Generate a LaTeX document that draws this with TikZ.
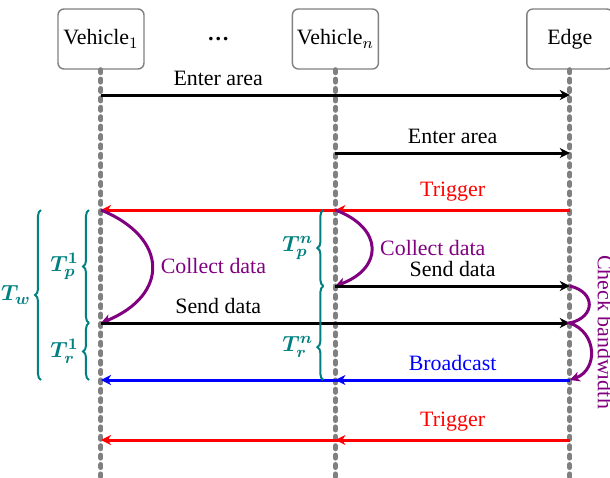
\documentclass[tikz,border=0pt,11pt]{standalone}
\usepackage{fontspec}
\setmainfont{Liberation Serif}
\usepackage{bm}
\usetikzlibrary{positioning,arrows.meta,decorations.pathreplacing}
\definecolor{vpurple}{RGB}{128,0,128}
\definecolor{vteal}{RGB}{0,128,128}

\begin{document}
\begin{tikzpicture}[node distance=73.5pt, >={Stealth[length=5pt,width=5pt,inset=1.5pt]}]
        \tikzstyle{actor} = [rectangle, draw=gray, rounded corners=3pt, line width=0.7pt, inner xsep=2pt, minimum width=43pt, minimum height=30pt]
        \tikzstyle{lifeline} = [gray, line width=2.5pt, dash pattern=on 1.5pt off 3.2pt, line cap=round]
        \tikzstyle{msg} = [->, line width=1.5pt]
        \tikzstyle{selfarc} = [->, vpurple, line width=1.5pt]
        \tikzstyle{period} = [vteal, line width=1pt, decorate, decoration={brace, amplitude=3pt}]
        \useasboundingbox (-50.5pt,19.5pt) rectangle (254.5pt,-219pt);
        \node[actor] (v1) {Vehicle$_1$};
        \node[actor, right=of v1] (vn) {Vehicle$_n$};
        \node[actor, right=of vn] (edge) {Edge};
        \path (v1) -- node (dots) {\textbf{\dots}} (vn);
        \draw[lifeline] (v1.south) -- ++(0,-204pt);
        \draw[lifeline] (vn.south) -- ++(0,-204pt);
        \draw[lifeline] (edge.south) -- ++(0,-204pt);
        % message rows
        \coordinate (enter1) at (0,-28pt);
        \coordinate (enter2) at (0,-57pt);
        \coordinate (trig1) at (0,-85.5pt);
        \coordinate (sendn) at (0,-123.5pt);
        \coordinate (send1) at (0,-142pt);
        \coordinate (bcast) at (0,-170.5pt);
        \coordinate (trig2) at (0,-200.5pt);
        \draw[msg] (v1 |- enter1) -- node[above, pos=0.25] {Enter area} (edge |- enter1);
        \draw[msg] (vn |- enter2) -- node[above] {Enter area} (edge |- enter2);
        \draw[msg, red] (edge |- trig1) -- (v1 |- trig1);
        \draw[msg, red] (edge |- trig1) -- node[above] {Trigger} (vn |- trig1);
        \draw[selfarc] (v1 |- trig1) .. controls +(34pt,-14pt) and +(34pt,14pt) .. node[right] {Collect data} (v1 |- send1);
        \draw[selfarc] (vn |- trig1) .. controls +(24pt,-9pt) and +(24pt,9pt) .. node[right] {Collect data} (vn |- sendn);
        \draw[msg] (vn |- sendn) -- node[above] {Send data} (edge |- sendn);
        \draw[msg] (v1 |- send1) -- node[above, pos=0.25] {Send data} (edge |- send1);
        \draw[selfarc] (edge |- sendn) .. controls +(13pt,-3pt) and +(13pt,3pt) .. (edge |- send1)
                .. controls +(14pt,-5pt) and +(14pt,5pt) .. (edge |- bcast);
        \coordinate (bwpos) at ([xshift=14pt, yshift=-4.5pt]edge |- send1);
        \node[rotate=-90, anchor=base, inner sep=0pt, text=vpurple] (bw) at (bwpos) {Check bandwidth};
        \draw[msg, blue] (edge |- bcast) -- (v1 |- bcast);
        \draw[msg, blue] (edge |- bcast) -- node[above] {Broadcast} (vn |- bcast);
        \draw[msg, red] (edge |- trig2) -- (v1 |- trig2);
        \draw[msg, red] (edge |- trig2) -- node[above] {Trigger} (vn |- trig2);
        % periods
        \draw[period] ([xshift=-6pt]v1 |- send1) -- node[left=1pt, text=vteal] {$\bm{T_p^1}$} ([xshift=-6pt]v1 |- trig1);
        \draw[period] ([xshift=-6pt]v1 |- bcast) -- node[left=1pt, text=vteal] {$\bm{T_r^1}$} ([xshift=-6pt]v1 |- send1);
        \draw[period] ([xshift=-30pt]v1 |- bcast) -- node[left=1pt, text=vteal] {$\bm{T_w}$} ([xshift=-30pt]v1 |- trig1);
        \draw[period] ([xshift=-6pt]vn |- sendn) -- node[left=1pt, text=vteal] {$\bm{T_p^n}$} ([xshift=-6pt]vn |- trig1);
        \draw[period, decoration={aspect=0.35}] ([xshift=-6pt]vn |- bcast) -- node[pos=0.35, left=1pt, text=vteal] {$\bm{T_r^n}$} ([xshift=-6pt]vn |- sendn);
    \end{tikzpicture}
\end{document}
